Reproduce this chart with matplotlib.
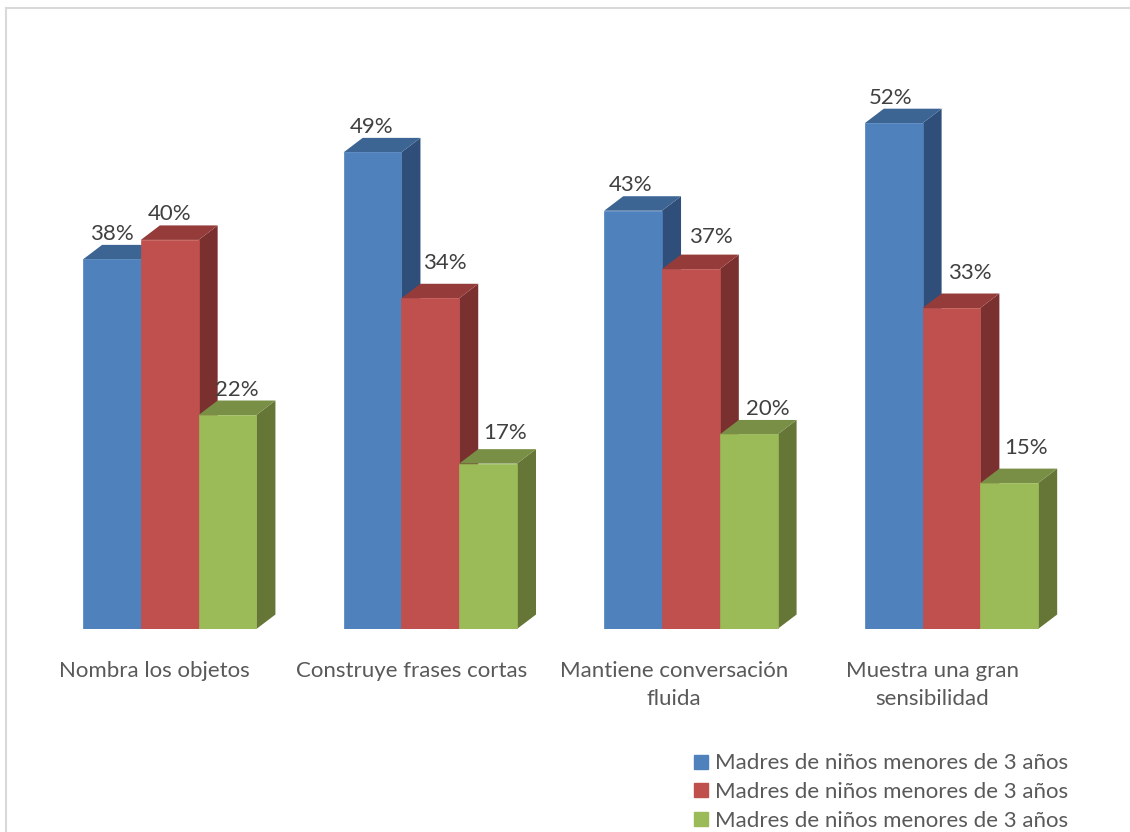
# plot.py
# 3D-looking grouped bars, drawn on a normal 2D axes with polygons for the depth.

import matplotlib
matplotlib.use("Agg")
import matplotlib.pyplot as plt
from matplotlib.patches import Polygon, Rectangle
from matplotlib.lines import Line2D

categories = [
    "Nombra los objetos",
    "Construye frases cortas",
    "Mantiene conversación\nfluida",
    "Muestra una gran\nsensibilidad",
]
series_names = [
    "Madres de niños menores de 3 años",
    "Madres de niños menores de 3 años",
    "Madres de niños menores de 3 años",
]
values_blue = [38, 49, 43, 52]
values_red = [40, 34, 37, 33]
values_green = [22, 17, 20, 15]

front_colors = ["#4F81BD", "#C0504D", "#9BBB59"]
top_colors = ["#3D6594", "#953C3A", "#788F45"]
side_colors = ["#2F4F7A", "#7A302E", "#657636"]

# label nudges in pixels (the original labels were moved by hand)
label_dx = [[0, -1, -2, -3], [0, 15, 20, 18], [9, 17, 19, 17]]
label_dy = [[1, 1, 1, 1], [1, 11, 8, 11], [1, 6, 1, 11]]
cat_dx = [-15, -19, -17, -19]

W, H = 1130, 832
DPI = 100
UNIT = 1040 / 18  # pixels per x unit (one bar width)
GROUP_STEP = 4.51
DEPTH_X = 0.33
DEPTH_Y = 1.49

plt.rcParams["font.family"] = ["Lato", "DejaVu Sans"]

fig = plt.figure(figsize=(W / DPI, H / DPI), dpi=DPI)

# outer chart frame
fig.add_artist(Rectangle((6 / W, -0.01), 1.1, 1 - 8 / H + 0.01, transform=fig.transFigure,
                         fill=False, edgecolor="#D9D9D9", linewidth=1.5))

ax = fig.add_axes([39.7 / W, (H - 629) / H, 1040 / W, 535 / H])
ax.set_xlim(-2.25, 15.75)
ax.set_ylim(0, 55)

all_values = [values_blue, values_red, values_green]
for j, values in enumerate(all_values):
    x_pos = [i * GROUP_STEP + j - 1 for i in range(len(categories))]
    ax.bar(x_pos, values, width=1.0, color=front_colors[j], edgecolor=front_colors[j],
           linewidth=0.5, zorder=2 * j + 3, label=series_names[j])
    for i, (x, v) in enumerate(zip(x_pos, values)):
        left, right = x - 0.5, x + 0.5
        side = [(right, 0), (right + DEPTH_X, DEPTH_Y), (right + DEPTH_X, v + DEPTH_Y), (right, v)]
        top = [(left, v), (left + DEPTH_X, v + DEPTH_Y), (right + DEPTH_X, v + DEPTH_Y), (right, v)]
        ax.add_patch(Polygon(side, closed=True, facecolor=side_colors[j], edgecolor="none", zorder=2 * j + 2))
        ax.add_patch(Polygon(top, closed=True, facecolor=top_colors[j], edgecolor="none", zorder=2 * j + 2))
        ax.annotate(f"{v}%", (x, v + DEPTH_Y), xytext=(label_dx[j][i] * 0.72, label_dy[j][i] * 0.72),
                    textcoords="offset points", ha="center", va="bottom",
                    fontsize=16, color="#404040", zorder=20)

ax.set_xticks([i * GROUP_STEP + cat_dx[i] / UNIT for i in range(len(categories))])
ax.set_xticklabels(categories, fontsize=16, color="#595959", linespacing=1.53)
ax.tick_params(axis="x", length=0, pad=22.7)
ax.set_yticks([])
for s in ax.spines.values():
    s.set_visible(False)
ax.patch.set_alpha(0)

handles = [Line2D([], [], linestyle="none", marker="s", markersize=10,
                  markerfacecolor=c, markeredgecolor=c) for c in front_colors]
fig.legend(handles, series_names, loc="lower left", bbox_to_anchor=(678 / W, -12 / H), frameon=False,
           fontsize=16, labelcolor="#595959", labelspacing=0.39, handlelength=0.9, handletextpad=0.16,
           borderpad=0.1)

fig.savefig("out.png", dpi=DPI)
